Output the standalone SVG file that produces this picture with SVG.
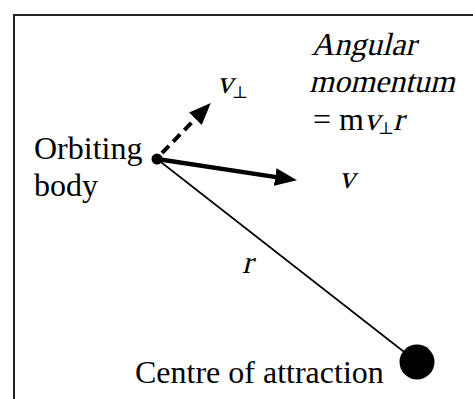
<svg xmlns="http://www.w3.org/2000/svg" width="473" height="399" viewBox="0 0 473 399">
<style>
.t{font-family:"Liberation Serif","Times New Roman",serif;font-size:32px;fill:#000}
.perp{font-family:"DejaVu Serif","DejaVu Sans",serif;font-size:17px}
.frame{fill:none;stroke:#222;stroke-width:2}
</style>
<defs>
<marker id="ah" markerUnits="userSpaceOnUse" markerWidth="22" markerHeight="18" refX="10" refY="8" orient="auto" viewBox="0 0 20 16">
<path d="M0,0 L20,8 L0,16 z" fill="#000"/>
</marker>
</defs>
<path class="frame" d="M14,399 V15 H473"/>
<g id="connectors">
<line x1="157" y1="159" x2="417" y2="362" stroke="#000" stroke-width="1.6"/>
<line x1="162" y1="153" x2="203.1" y2="110.9" stroke="#000" stroke-width="4" stroke-dasharray="10,6" marker-end="url(#ah)"/>
<line x1="157" y1="159" x2="286.1" y2="178.6" stroke="#000" stroke-width="4.5" marker-end="url(#ah)"/>
</g>
<g id="orbiting-body">
<circle cx="157" cy="159" r="5.5" fill="#000"/>
<text class="t" x="34" y="159">Orbiting</text>
<text class="t" x="34" y="196">body</text>
</g>
<g id="centre-of-attraction">
<circle cx="417" cy="362" r="17.5" fill="#000"/>
<text class="t" x="135" y="383">Centre of attraction</text>
</g>
<g id="labels">
<text class="t" transform="translate(217,93) skewX(-14)">v</text>
<text class="t perp" x="232" y="98">⊥</text>
<text class="t" transform="translate(339,188) skewX(-14)">v</text>
<text class="t" transform="translate(242,273) skewX(-14)">r</text>
<text class="t" transform="translate(311,55) skewX(-14)">Angular</text>
<text class="t" transform="translate(309,92) skewX(-14)">momentum</text>
<text class="t" x="313" y="130">= m</text>
<text class="t" transform="translate(364,130) skewX(-14)">v</text>
<text class="t perp" x="378" y="134">⊥</text>
<text class="t" transform="translate(393,130) skewX(-14)">r</text>
</g>
</svg>
